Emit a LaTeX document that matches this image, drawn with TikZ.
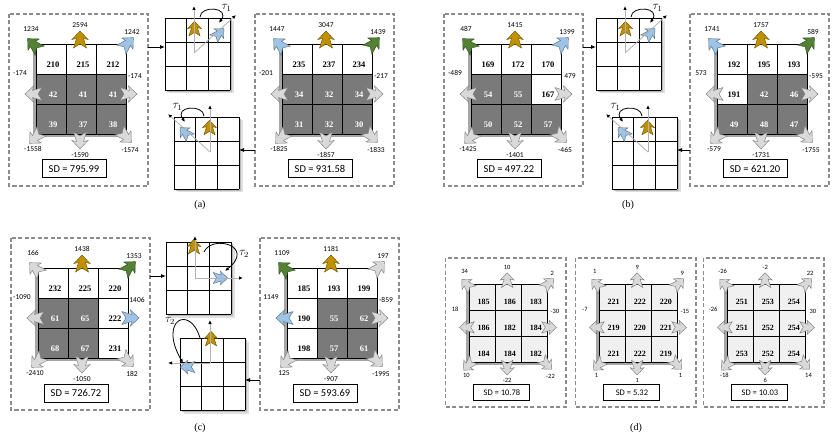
\documentclass[tikz,border=0pt]{standalone}
\usepackage{fontspec}
\setmainfont{Liberation Serif}
\newfontfamily\calfont{Carlito}
\usetikzlibrary{arrows.meta,calc}
\definecolor{cellgray}{HTML}{7A7A7A}
\definecolor{celllight}{HTML}{F0F0F0}
\definecolor{gridshade}{HTML}{A6A6A6}
\definecolor{boxdash}{HTML}{8C8C8C}
\definecolor{pushgold}{HTML}{BF9000}
\definecolor{pushgreen}{HTML}{548235}
\definecolor{pushblue}{HTML}{9DC3E6}
\definecolor{pushgray}{HTML}{D9D9D9}

% notched block arrow: [scale]{fill}{centre}{angle}
\newcommand{\notcharrow}[4][1]{%
  \filldraw[fill=#2, draw=#2!55!black, line width=0.4pt, shift={#3}, rotate=#4, scale=#1]
    (9,0) -- (0.5,8) -- (1.5,3.5) -- (-8,6.5) -- (-4,0) -- (-8,-6.5) -- (1.5,-3.5) -- (0.5,-8) -- cycle;}

% 3x3 grid with soft shadow, 65 x 72, origin = top left corner
\newcommand{\smallgrid}[1]{%
  \fill[black!12] (3.5,3.5) rectangle (68.5,75.5);
  \fill[black!28] (2,2) rectangle (67,74);
  \fill[white] (0,0) rectangle (65,72);
  \foreach \t in {0,1,2,3} {
    \draw[gridline] (65*\t/3,0) -- (65*\t/3,72);
    \draw[gridline] (0,24*\t) -- (65,24*\t);
  }
  \coordinate (#1-nw) at (0,0);
  \coordinate (#1-se) at (65,72);}

% one dashed panel: [style]{name}{grid origin}{scale}{cells}{pushes}{SD}
\newcommand{\pushpanel}[7][]{%
\begin{scope}[shift={#3}, scale=#4, #1]
  \draw[panelbox] (-27,-30) rectangle (112,142);
  \coordinate (#2-nw) at (-27,-30);
  \coordinate (#2-se) at (112,142);
  \fill[gridshade] (-3,3) rectangle (87,93);
  \foreach \v/\k [count=\i from 0] in {#5} {
    \pgfmathtruncatemacro\cx{mod(\i,3)}
    \pgfmathtruncatemacro\cy{floor(\i/3)}
    \fill[cell\k] (30*\cx,30*\cy) rectangle ++(30,30);
    \node[num\k] (#2-n\i) at (30*\cx+17,30*\cy+21) {\v};
  }
  \foreach \t in {0,30,60,90} {
    \draw[gridline] (\t,0) -- (\t,90);
    \draw[gridline] (0,\t) -- (90,\t);
  }
  \foreach \c/\v [count=\i from 0] in {#6} {
    \pgfmathsetmacro\ang{{135,90,45,180,0,-135,-90,-45}[\i]}
    \pgfmathsetmacro\ax{{-2,44,91,-2,92,0,44,89}[\i]}
    \pgfmathsetmacro\ay{{1,-4,0,50,50,93,96,92}[\i]}
    \pgfmathsetmacro\lx{{-5,44,96,-16,99,-3,44,94}[\i]}
    \pgfmathsetmacro\ly{{-15,-19,-12,29,32,105,111,106}[\i]}
    \notcharrow{push\c}{(\ax,\ay)}{\ang}
    \node[pushlabel] (#2-l\i) at (\lx,\ly) {\v};
  }
  \node[sdbox] (#2-sd) at (38,125) {SD = #7};
\end{scope}}

% small grid, push turning on the diagonal: {name}{grid origin}{+1 right, -1 left}
\newcommand{\diagturn}[3]{%
\begin{scope}[shift={#2}]
  \smallgrid{#1}
  \begin{scope}[shift={(32.5,0)}, xscale=#3]
    \notcharrow[0.85]{pushgold}{(-3,11)}{90}
    \notcharrow[0.85]{pushblue}{(21,16)}{45}
    \draw[vec] (-3.5,35) -- (-3.5,-12);
    \draw[vec] (-3.5,35) -- (38.5,-3);
    \draw[turn] (2.5,-1) .. controls (3,-13) and (33,-11) .. (21.5,5);
    \node[taulabel] (#1-tau) at (29,-10) {$\tau_1$};
  \end{scope}
\end{scope}}

\begin{document}
\begin{tikzpicture}[
  x=1pt, y=-1pt,
  panelbox/.style={draw=boxdash, line width=1.3pt, dash pattern=on 4pt off 2.5pt},
  gridline/.style={draw=black, line width=0.8pt},
  cellw/.style={fill=white},
  cellg/.style={fill=cellgray},
  celll/.style={fill=celllight},
  numw/.style={font=\bfseries\fontsize{8.5}{9}\selectfont, text=black, inner sep=0pt},
  numg/.style={numw, text=white},
  numl/.style={numw},
  pushlabel/.style={font=\calfont\fontsize{7.5}{8}\selectfont, inner sep=0pt},
  sdbox/.style={draw=black, line width=1pt, minimum width=64pt, minimum height=18pt,
    inner sep=0pt, font=\calfont\fontsize{10.5}{12}\selectfont},
  dpanel/.style={
    pushlabel/.append style={font=\calfont\fontsize{6.5}{7}\selectfont},
    numl/.append style={font=\bfseries\fontsize{8}{9}\selectfont},
    sdbox/.append style={font=\calfont\fontsize{8.5}{10}\selectfont, minimum width=56pt, minimum height=16pt}},
  vec/.style={draw=black!30, line width=0.8pt, -{Latex[black, length=4pt, width=3.5pt]}},
  turn/.style={draw=black, line width=0.8pt, -{Latex[length=4pt, width=3.5pt]}},
  taulabel/.style={font=\fontsize{12}{12}\selectfont, inner sep=0pt},
  flow/.style={draw=black, line width=0.8pt, -{Latex[length=5pt, width=4pt]}},
  caption/.style={font=\fontsize{10}{12}\selectfont},
]
\useasboundingbox (0,0) rectangle (837,438);

% ---------------- (a)
\pushpanel{A1}{(36,44)}{1}{210/w,215/w,212/w,42/g,41/g,41/g,39/g,37/g,38/g}
  {green/1234,gold/2594,blue/1242,gray/-174,gray/-174,gray/-1558,gray/-1590,gray/-1574}{795.99}
\pushpanel{A2}{(282,44)}{1}{235/w,237/w,234/w,34/g,32/g,34/g,31/g,32/g,30/g}
  {blue/1447,gold/3047,green/1439,gray/-201,gray/-217,gray/-1825,gray/-1857,gray/-1833}{931.58}
\diagturn{ta}{(165,18)}{1}
\diagturn{tb}{(174,117)}{-1}

% ---------------- (b)
\pushpanel{B1}{(471,44)}{1}{169/w,172/w,170/w,54/g,55/g,167/w,50/g,52/g,57/g}
  {green/487,gold/1415,blue/1399,gray/-489,gray/479,gray/-1425,gray/-1401,gray/-465}{497.22}
\pushpanel{B2}{(717,44)}{1}{192/w,195/w,193/w,191/w,42/g,46/g,49/g,48/g,47/g}
  {blue/1741,gold/1757,green/589,gray/573,gray/-595,gray/-579,gray/-1731,gray/-1755}{621.20}
\diagturn{tc}{(596,18)}{1}
\diagturn{td}{(612,117)}{-1}

% ---------------- (c)
\pushpanel{C1}{(38,268)}{1}{232/w,225/w,220/w,61/g,65/g,222/w,68/g,67/g,231/w}
  {gray/166,gold/1438,green/1353,gray/-1090,blue/1406,gray/-2410,gray/-1050,gray/182}{726.72}
\pushpanel{C2}{(287,268)}{1}{185/w,193/w,199/w,190/w,55/g,62/g,198/w,57/g,61/g}
  {green/1109,gold/1181,gray/197,blue/1149,gray/-859,gray/125,gray/-907,gray/-1995}{593.69}

\begin{scope}[shift={(166,242)}]
  \smallgrid{te}
  \notcharrow[0.85]{pushgold}{(28,5)}{90}
  \notcharrow[0.85]{pushblue}{(54,36)}{0}
  \draw[vec] (29,36) -- (29,-6);
  \draw[vec] (29,36) -- (77,36);
  \draw[turn] (38,10) .. controls (46,-8) and (90,4) .. (59,29);
  \node[taulabel] (te-tau) at (78,12) {$\tau_2$};
\end{scope}

\begin{scope}[shift={(180,338)}]
  \smallgrid{tf}
  \notcharrow[0.85]{pushgold}{(31,1)}{90}
  \notcharrow[0.85]{pushblue}{(8,29)}{180}
  \draw[vec] (30,25) -- (30,-18);
  \draw[vec] (30,25) -- (-12,25);
  \draw[turn] (20,0) .. controls (10,-34) and (-22,-18) .. (3,25);
  \node[taulabel] (tf-tau) at (-10,-17) {$\tau_2$};
\end{scope}

% ---------------- (d)
\pushpanel[dpanel]{D1}{(469,284)}{0.867}{185/l,186/l,183/l,186/l,182/l,184/l,184/l,184/l,182/l}
  {gray/34,gray/10,gray/2,gray/18,gray/-30,gray/10,gray/-22,gray/-22}{10.78}
\pushpanel[dpanel]{D2}{(599,284)}{0.867}{221/l,222/l,220/l,219/l,220/l,221/l,221/l,222/l,219/l}
  {gray/1,gray/9,gray/9,gray/-7,gray/-15,gray/1,gray/1,gray/1}{5.32}
\pushpanel[dpanel]{D3}{(727,284)}{0.867}{251/l,253/l,254/l,251/l,252/l,254/l,253/l,252/l,254/l}
  {gray/-26,gray/-2,gray/22,gray/-26,gray/30,gray/-18,gray/6,gray/14}{10.03}

% ---------------- hand-overs from panel to grid
\coordinate (ha) at (0,47);
\coordinate (hb) at (0,150);
\coordinate (hc) at (0,276);
\coordinate (hd) at (0,380);
\draw[flow] (A1-se |- ha) -- (ta-nw |- ha);
\draw[flow] (A2-nw |- hb) -- (tb-se |- hb);
\draw[flow] (B1-se |- ha) -- (tc-nw |- ha);
\draw[flow] (B2-nw |- hb) -- (td-se |- hb);
\draw[flow] (C1-se |- hc) -- (te-nw |- hc);
\draw[flow] (C2-nw |- hd) -- (tf-se |- hd);

% ---------------- captions
\node[caption] (capa) at (200,205) {(a)};
\node[caption] (capb) at (628,205) {(b)};
\node[caption] (capc) at (200,428) {(c)};
\node[caption] (capd) at (636,428) {(d)};

\end{tikzpicture}
\end{document}
